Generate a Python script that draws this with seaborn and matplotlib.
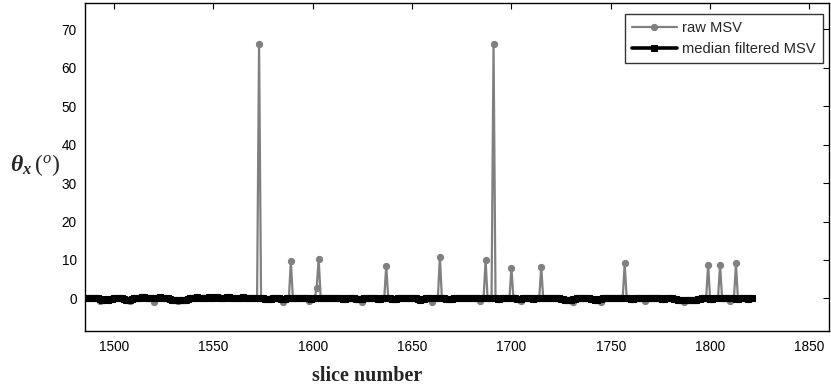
import numpy as np
import pandas as pd
import matplotlib
matplotlib.use("Agg")
import matplotlib.pyplot as plt
import seaborn as sns

# slice numbers 1486 .. 1821
first_slice = 1486
median_msv = [
    0.2, 0.2, 0.1, 0.2, 0.2, 0.1, 0.0, -0.2, -0.3, -0.3, -0.2, -0.3, -0.2, -0.1, 0.0, 0.1,
    0.2, 0.2, 0.1, -0.2, -0.4, -0.4, -0.3, -0.2, 0.0, 0.1, 0.2, 0.2, 0.3, 0.3, 0.2, 0.2,
    0.2, 0.1, 0.1, 0.2, 0.2, 0.3, 0.2, 0.2, 0.1, 0.0, -0.1, -0.3, -0.4, -0.4, -0.4, -0.3,
    -0.3, -0.4, -0.3, -0.2, 0.0, 0.1, 0.2, 0.2, 0.3, 0.2, 0.2, 0.1, 0.2, 0.2, 0.3, 0.2,
    0.2, 0.3, 0.3, 0.2, 0.2, 0.1, 0.2, 0.3, 0.3, 0.2, 0.2, 0.1, 0.1, 0.2, 0.2, 0.3,
    0.2, 0.2, 0.1, 0.1, 0.2, 0.2, 0.1, 0.2, 0.1, 0.0, -0.1, -0.2, -0.2, -0.1, 0.0, 0.1,
    0.1, 0.0, -0.1, -0.2, -0.1, 0.0, 0.1, 0.1, 0.1, 0.2, 0.2, 0.1, 0.0, 0.0, 0.1, 0.1,
    0.0, -0.1, 0.0, 0.1, 0.2, 0.2, 0.2, 0.1, 0.0, 0.0, 0.1, 0.1, 0.2, 0.2, 0.1, 0.0,
    0.0, -0.1, -0.1, 0.0, 0.1, 0.2, 0.2, 0.1, -0.1, -0.2, -0.2, -0.1, 0.0, 0.1, 0.2, 0.2,
    0.1, 0.1, 0.0, -0.1, -0.1, 0.0, 0.1, 0.1, 0.1, 0.0, -0.1, -0.2, -0.1, 0.0, 0.1, 0.1,
    0.2, 0.2, 0.1, 0.1, 0.2, 0.2, 0.0, -0.2, -0.3, -0.2, -0.1, 0.0, 0.1, 0.2, 0.1, 0.1,
    0.2, 0.2, 0.1, 0.1, 0.0, -0.1, -0.2, -0.1, -0.1, 0.0, 0.1, 0.2, 0.2, 0.1, 0.1, 0.2,
    0.2, 0.1, 0.0, 0.0, 0.1, 0.1, 0.1, 0.2, 0.1, 0.1, 0.0, 0.0, 0.1, 0.1, 0.0, -0.1,
    -0.1, 0.0, 0.1, 0.1, 0.0, 0.0, 0.1, 0.1, 0.0, -0.1, -0.2, -0.1, 0.0, 0.1, 0.1, 0.1,
    0.0, -0.1, 0.0, 0.1, 0.1, 0.0, 0.0, 0.1, 0.2, 0.2, 0.1, 0.1, 0.2, 0.1, 0.0, -0.1,
    -0.2, -0.3, -0.4, -0.4, -0.3, -0.2, -0.1, 0.0, 0.1, 0.2, 0.2, 0.1, 0.1, 0.0, -0.1, -0.2,
    -0.3, -0.3, -0.2, -0.1, 0.0, 0.1, 0.1, 0.0, 0.0, 0.1, 0.2, 0.1, 0.1, 0.0, 0.0, 0.1,
    0.1, 0.0, -0.1, -0.1, 0.0, 0.1, 0.2, 0.2, 0.1, 0.1, 0.0, 0.0, 0.1, 0.1, 0.2, 0.1,
    0.1, 0.0, -0.1, -0.1, 0.0, 0.1, 0.1, 0.0, -0.1, -0.2, -0.3, -0.4, -0.4, -0.3, -0.4, -0.4,
    -0.3, -0.3, -0.4, -0.3, -0.2, -0.1, 0.0, 0.1, 0.1, 0.0, -0.1, -0.1, 0.0, 0.1, 0.2, 0.2,
    0.1, 0.1, 0.0, 0.0, 0.1, 0.1, 0.0, -0.1, -0.1, 0.0, 0.1, 0.1, 0.0, -0.1, 0.0, 0.0,
]

# raw MSV: outliers (spikes) and small dips where it differs from the median
spike_slices = [1573, 1589, 1602, 1603, 1637, 1664, 1687, 1691, 1700, 1715, 1757, 1799, 1805, 1813]
spike_values = [66.2, 9.7, 2.8, 10.3, 8.5, 10.9, 10.0, 66.2, 8.0, 8.3, 9.1, 8.8, 8.8, 9.1]
dip_slices = [1493, 1508, 1520, 1532, 1585, 1598, 1625, 1660, 1684, 1705, 1731, 1745, 1767, 1787, 1810]
dip_values = [-0.8, -0.7, -0.9, -0.7, -0.9, -0.8, -1.0, -0.9, -0.7, -0.8, -1.0, -0.9, -0.8, -0.9, -0.7]

slices = np.arange(first_slice, first_slice + len(median_msv))
df = pd.DataFrame({"slice": slices, "median": median_msv})
df["raw"] = df["median"]
df.loc[df["slice"].isin(dip_slices), "raw"] = dip_values
df.loc[df["slice"].isin(spike_slices), "raw"] = spike_values

sns.set_style("white")
plt.rcParams["font.family"] = ["Liberation Sans", "DejaVu Sans"]
plt.rcParams["mathtext.fontset"] = "custom"
plt.rcParams["mathtext.rm"] = "Liberation Serif"
plt.rcParams["mathtext.it"] = "Liberation Serif:italic:bold"
plt.rcParams["mathtext.sf"] = "Liberation Serif:italic"

fig = plt.figure(figsize=(8.31, 3.87), dpi=100)
ax = fig.add_axes([0.1023, 0.1455, 0.8957, 0.846])

sns.lineplot(data=df, x="slice", y="raw", ax=ax, color="#808080", lw=1.6,
             marker="o", markersize=4.5, markeredgecolor="#808080",
             label="raw MSV", estimator=None)
sns.lineplot(data=df, x="slice", y="median", ax=ax, color="black", lw=2.6,
             marker="s", markersize=5, markeredgecolor="black",
             label="median filtered MSV", estimator=None)

ax.set_xlim(1485.4, 1860)
ax.set_ylim(-8.4, 76.8)
ax.set_xticks(np.arange(1500, 1851, 50))
ax.set_yticks(np.arange(0, 71, 10))
ax.tick_params(direction="in", top=True, right=True, length=4, width=0.8,
               labelsize=9.8, colors="black")
ax.tick_params(axis="x", pad=7)
ax.tick_params(axis="y", pad=6)
for s in ax.spines.values():
    s.set_color("black")
    s.set_linewidth(1.0)

ax.set_xlabel("slice number", fontsize=14.5, fontweight="bold", family="Liberation Serif",
              va="center")
ax.xaxis.set_label_coords(0.379, -0.138)
ax.set_ylabel(r"$\theta_x\,(^{\mathsf{o}})$", fontsize=17, rotation=0)
ax.yaxis.set_label_coords(-0.067, 0.466)

leg = ax.legend(loc="upper right", bbox_to_anchor=(0.991, 0.967), borderaxespad=0,
                fontsize=10.6, frameon=True, fancybox=False, handlelength=3.1,
                handletextpad=0.35, labelspacing=0.5, borderpad=0.45)
leg.get_frame().set_edgecolor("black")
leg.get_frame().set_linewidth(1.0)

fig.savefig("out.png", dpi=100)
